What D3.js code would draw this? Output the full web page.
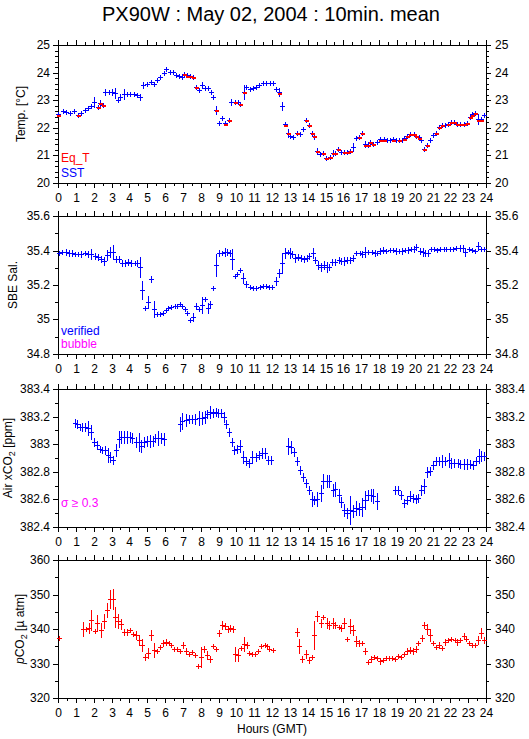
<!DOCTYPE html>
<html>
<head>
<meta charset="utf-8">
<script src="https://cdn.jsdelivr.net/npm/d3@7"></script>
<style>
body { margin: 0; background: #fff; }
svg text { font-family: "Liberation Sans", Arial, sans-serif; }
</style>
</head>
<body>
<div id="chart"></div>
<script>
// ---- data: hours (GMT), 10 min means, +/- one sigma ----
const sstHours = [0.00,0.28,0.47,0.69,0.88,1.12,1.31,1.50,1.68,1.87,2.04,2.22,2.38,2.52,2.66,2.84,3.02,3.18,3.34,3.50,3.68,3.86,4.05,4.24,4.42,4.60,4.79,5.00,5.19,5.38,5.57,5.74,5.92,6.08,6.26,6.44,6.62,6.78,6.93,7.07,7.22,7.38,7.56,7.75,7.90,8.06,8.24,8.40,8.56,8.70,8.88,9.03,9.21,9.39,9.57,9.72,9.90,10.07,10.22,10.41,10.56,10.75,10.93,11.12,11.29,11.48,11.67,11.86,
  12.05,12.22,12.39,12.56,12.72,12.88,13.02,13.20,13.39,13.56,13.72,13.89,14.06,14.22,14.37,14.54,14.69,14.87,15.05,15.24,15.41,15.55,15.70,15.88,16.06,16.22,16.38,16.53,16.70,16.87,17.04,17.19,17.36,17.52,17.69,17.88,18.07,18.26,18.45,18.62,18.78,18.94,19.10,19.27,19.42,19.58,19.76,19.94,20.08,20.22,20.38,20.54,20.69,20.87,21.03,21.19,21.38,21.54,21.71,21.87,22.05,22.23,22.38,22.56,22.74,22.93,23.08,23.23,23.41,23.56,23.74,23.87];
const sstValues = [22.49,22.60,22.58,22.54,22.60,22.46,22.52,22.64,22.70,22.78,22.92,22.76,22.90,22.82,23.30,23.28,23.28,23.25,23.02,23.12,23.22,23.24,23.24,23.22,23.19,23.12,23.55,23.60,23.65,23.58,23.72,23.83,24.00,24.12,24.01,24.02,23.93,23.87,23.83,23.95,23.90,23.88,23.85,23.48,23.36,23.56,23.45,23.43,23.28,23.12,22.64,22.18,22.34,22.16,22.28,22.95,22.95,22.93,22.86,23.30,23.47,23.42,23.45,23.47,23.55,23.62,23.64,23.64,
  23.62,23.40,23.28,22.80,22.12,21.82,21.70,21.65,21.82,21.77,21.95,22.28,22.10,21.82,21.70,21.16,21.04,21.08,20.92,20.94,21.10,21.08,21.23,21.13,21.13,21.12,21.16,21.30,21.63,21.67,21.82,21.40,21.37,21.49,21.43,21.50,21.58,21.58,21.57,21.57,21.58,21.55,21.57,21.56,21.62,21.70,21.77,21.77,21.70,21.65,21.55,21.25,21.37,21.55,21.73,21.82,22.03,22.10,22.10,22.13,22.22,22.22,22.13,22.13,22.13,22.18,22.40,22.49,22.54,22.31,22.31,22.45];
const sstErr = [.04,.06,.06,.07,.06,.05,.05,.06,.07,.07,.20,.06,.10,.06,.10,.10,.12,.20,.06,.10,.18,.06,.06,.06,.06,.12,.10,.06,.06,.07,.08,.06,.05,.04,.06,.04,.04,.04,.05,.04,.04,.04,.06,.05,.04,.10,.05,.08,.05,.07,.15,.07,.05,.06,.06,.08,.05,.04,.04,.25,.06,.04,.04,.04,.04,.04,.03,.03,
  .03,.08,.15,.15,.06,.12,.08,.04,.04,.04,.07,.05,.04,.08,.10,.12,.08,.07,.05,.05,.08,.04,.04,.05,.05,.05,.04,.15,.04,.04,.04,.12,.06,.04,.04,.05,.03,.03,.03,.03,.03,.04,.03,.03,.04,.04,.04,.04,.04,.03,.03,.06,.06,.07,.05,.08,.04,.04,.03,.03,.03,.03,.05,.04,.04,.04,.04,.04,.04,.18,.06,.04];

const eqHours = [0.00,1.12,2.22,2.38,2.52,7.07,7.22,7.38,7.56,7.75,8.88,9.39,9.57,9.90,10.22,10.41,
  12.39,12.72,12.88,13.39,13.89,14.06,14.22,14.37,14.54,14.87,15.05,15.24,15.41,15.55,15.70,16.06,16.22,16.38,16.87,17.04,17.19,17.36,17.52,17.69,18.07,18.26,18.78,19.10,19.42,19.58,19.76,19.94,20.08,20.22,20.54,20.69,21.19,21.38,21.54,21.87,22.05,22.23,22.38,22.56,22.74,22.93,23.08,23.23,23.41,23.56,23.74];
const eqValues = [22.48,22.45,22.75,22.89,22.81,23.94,23.89,23.87,23.84,23.47,22.63,22.15,22.27,22.94,22.85,23.29,
  23.27,22.11,21.81,21.81,22.27,22.09,21.81,21.69,21.15,21.07,20.91,20.93,21.09,21.07,21.22,21.12,21.11,21.15,21.66,21.81,21.39,21.36,21.48,21.42,21.57,21.57,21.57,21.56,21.61,21.69,21.76,21.76,21.69,21.64,21.24,21.36,21.81,22.02,22.09,22.12,22.21,22.21,22.12,22.12,22.12,22.17,22.39,22.48,22.53,22.30,22.30];

const salHours = [0.06,0.24,0.43,0.60,0.77,0.95,1.12,1.31,1.50,1.68,1.87,2.06,2.24,2.43,2.58,2.75,2.92,3.08,3.23,3.42,3.59,3.76,3.94,4.11,4.30,4.45,4.58,4.73,4.90,5.07,5.23,5.38,5.55,5.70,5.89,6.04,6.19,6.36,6.54,6.69,6.82,6.97,7.10,7.25,7.42,7.57,7.72,7.91,8.09,8.22,8.41,8.54,8.71,8.88,9.03,9.18,9.35,9.50,9.63,9.76,9.91,10.06,10.22,10.39,10.56,10.75,10.93,11.12,11.31,11.50,11.68,11.84,11.98,
  12.22,12.39,12.56,12.71,12.88,13.01,13.12,13.29,13.44,13.61,13.78,13.95,14.10,14.28,14.42,14.60,14.75,14.92,15.07,15.20,15.37,15.54,15.73,15.88,16.04,16.23,16.38,16.55,16.72,16.91,17.06,17.24,17.41,17.58,17.75,17.88,18.07,18.22,18.40,18.59,18.78,18.95,19.10,19.28,19.43,19.62,19.79,19.94,20.09,20.28,20.45,20.60,20.75,20.93,21.10,21.25,21.44,21.63,21.78,21.96,22.15,22.34,22.52,22.69,22.84,23.03,23.22,23.40,23.55,23.74,23.87];
const salValues = [35.384,35.390,35.393,35.388,35.384,35.380,35.380,35.380,35.384,35.380,35.378,35.368,35.365,35.350,35.342,35.374,35.390,35.393,35.350,35.350,35.326,35.330,35.336,35.330,35.330,35.330,35.303,35.173,35.064,35.100,35.236,35.058,35.033,35.033,35.040,35.055,35.068,35.074,35.078,35.081,35.090,35.078,35.062,35.035,34.997,35.016,35.081,35.058,35.083,35.121,35.068,35.090,35.181,35.317,35.384,35.384,35.393,35.393,35.384,35.350,35.250,35.261,35.286,35.240,35.206,35.189,35.183,35.183,35.186,35.192,35.192,35.190,35.188,
  35.225,35.270,35.326,35.384,35.390,35.384,35.378,35.359,35.363,35.359,35.353,35.359,35.368,35.387,35.345,35.317,35.307,35.317,35.307,35.307,35.332,35.336,35.345,35.342,35.340,35.345,35.345,35.355,35.384,35.384,35.380,35.390,35.390,35.390,35.388,35.384,35.400,35.405,35.396,35.405,35.405,35.400,35.398,35.400,35.405,35.405,35.407,35.410,35.420,35.400,35.393,35.384,35.384,35.407,35.410,35.405,35.407,35.407,35.410,35.410,35.410,35.414,35.414,35.414,35.393,35.407,35.405,35.400,35.428,35.407,35.410];
const salErr = [.012,.015,.015,.015,.02,.012,.012,.015,.012,.015,.03,.02,.015,.02,.02,.03,.03,.04,.02,.02,.02,.015,.012,.015,.012,.015,.06,.05,.01,.035,.015,.05,.01,.01,.01,.012,.01,.01,.01,.01,.01,.012,.01,.012,.01,.02,.012,.012,.05,.01,.025,.015,.015,.06,.02,.015,.02,.015,.02,.06,.015,.015,.015,.03,.015,.01,.01,.01,.01,.01,.01,.01,.01,
  .02,.025,.06,.03,.015,.03,.02,.02,.015,.015,.015,.015,.015,.025,.02,.02,.02,.02,.025,.015,.02,.015,.015,.015,.02,.015,.015,.02,.015,.01,.015,.03,.015,.015,.015,.015,.015,.015,.015,.01,.01,.015,.01,.015,.01,.015,.01,.015,.02,.015,.02,.02,.02,.015,.01,.01,.015,.01,.01,.01,.01,.01,.015,.015,.02,.015,.01,.01,.02,.015,.01];

const airHours = [0.93,1.08,1.21,1.36,1.53,1.68,1.83,2.02,2.19,2.34,2.49,2.64,2.79,2.93,3.08,3.23,3.40,3.55,3.70,3.87,4.02,4.17,4.36,4.52,4.67,4.82,4.99,5.14,5.33,5.46,5.61,5.76,5.93,6.82,6.97,7.16,7.33,7.51,7.70,7.89,8.07,8.22,8.37,8.54,8.69,8.84,8.99,9.14,9.29,9.44,9.59,9.74,9.89,10.04,10.19,10.37,10.56,10.71,10.90,11.08,11.27,11.46,11.61,11.78,11.92,
  12.92,13.07,13.24,13.39,13.57,13.72,13.89,14.06,14.23,14.37,14.54,14.73,14.88,15.07,15.22,15.41,15.56,15.73,15.88,16.04,16.19,16.38,16.57,16.72,16.89,17.04,17.22,17.37,17.54,17.69,17.88,18.87,19.04,19.23,19.38,19.57,19.75,19.90,20.05,20.20,20.37,20.54,20.69,20.88,21.03,21.19,21.38,21.55,21.72,21.91,22.06,22.22,22.41,22.56,22.75,22.94,23.09,23.27,23.44,23.59,23.74,23.91];
const airValues = [383.152,383.145,383.128,383.123,383.123,383.120,383.087,383.014,382.995,382.966,382.959,382.959,382.923,382.910,382.887,382.959,383.039,383.055,383.055,383.055,383.055,383.048,383.019,383.019,382.990,383.019,383.026,383.026,383.026,383.043,383.048,383.043,383.039,383.145,383.169,383.176,383.183,383.183,383.180,383.188,383.192,383.200,383.217,383.236,383.225,383.230,383.225,383.225,383.200,383.145,383.087,383.014,382.959,382.964,382.990,382.910,382.875,382.863,382.904,382.904,382.923,382.935,382.935,382.887,382.882,
  382.988,382.983,382.942,382.880,382.810,382.761,382.718,382.665,382.605,382.593,382.602,382.646,382.735,382.735,382.735,382.670,382.675,382.634,382.578,382.525,382.501,382.525,382.518,382.537,382.532,382.542,382.598,382.629,382.634,382.627,382.590,382.670,382.670,382.629,382.573,382.598,382.622,382.610,382.605,382.610,382.665,382.699,382.802,382.807,382.846,382.875,382.880,382.880,382.880,382.887,382.867,382.862,382.862,382.856,382.856,382.856,382.856,382.851,382.875,382.918,382.918,382.911];
const airErr = [.03,.03,.02,.03,.03,.05,.05,.03,.03,.02,.02,.03,.05,.03,.03,.04,.06,.04,.04,.04,.03,.03,.03,.06,.04,.03,.03,.04,.03,.03,.05,.04,.04,.05,.06,.04,.03,.03,.04,.05,.04,.04,.03,.04,.03,.03,.03,.03,.03,.03,.03,.03,.03,.03,.04,.04,.03,.03,.05,.03,.03,.04,.04,.03,.03,
  .06,.04,.03,.03,.03,.03,.03,.03,.05,.03,.05,.06,.05,.04,.04,.04,.05,.04,.04,.04,.04,.10,.04,.05,.04,.07,.06,.04,.04,.05,.06,.03,.03,.03,.03,.03,.04,.03,.03,.03,.04,.05,.03,.03,.03,.03,.03,.04,.03,.05,.03,.03,.03,.03,.04,.04,.03,.03,.03,.05,.03,.03];

const pco2Hours = [0.06,1.40,1.55,1.72,1.87,2.06,2.21,2.39,2.56,2.73,2.90,3.07,3.21,3.36,3.53,3.72,3.89,4.06,4.21,4.39,4.56,4.73,4.90,5.07,5.23,5.38,5.55,5.72,5.89,6.06,6.21,6.36,6.52,6.69,6.86,7.03,7.20,7.36,7.53,7.70,7.87,8.04,8.21,8.37,8.54,8.71,8.88,9.05,9.21,9.38,9.51,9.66,9.83,9.93,10.07,10.24,10.41,10.58,10.73,10.90,11.07,11.23,11.40,11.59,11.72,11.85,12.04,
  13.39,13.54,13.70,13.89,14.06,14.23,14.38,14.55,14.73,14.88,15.07,15.22,15.41,15.56,15.73,15.88,16.04,16.23,16.38,16.53,16.70,16.87,17.04,17.22,17.36,17.54,17.71,17.88,18.03,18.20,18.39,18.55,18.74,18.91,19.08,19.25,19.42,19.58,19.75,19.92,20.07,20.20,20.39,20.54,20.69,20.88,21.03,21.19,21.38,21.55,21.72,21.87,22.06,22.25,22.37,22.56,22.75,22.90,23.07,23.22,23.40,23.55,23.72,23.91];
const pco2Values = [337.4,340.0,339.9,340.3,342.5,339.4,341.6,339.6,342.3,345.5,348.8,348.6,343.5,342.3,341.5,339.1,339.1,339.6,338.6,338.4,336.8,335.5,331.9,333.1,338.2,334.0,333.6,334.8,336.0,336.3,335.8,335.5,334.3,334.3,333.7,335.3,333.6,332.8,333.3,332.4,329.2,331.9,334.2,332.6,331.3,335.0,334.2,338.9,341.3,341.0,339.9,340.3,339.9,332.8,332.6,334.5,335.7,335.5,333.1,332.8,332.8,333.6,335.2,335.3,335.2,334.2,334.0,
  339.2,335.0,331.4,332.8,331.1,331.8,338.4,343.7,341.8,343.4,341.8,341.3,341.6,341.1,340.5,340.3,341.6,337.2,340.8,339.6,336.5,336.0,335.8,333.7,330.5,331.3,331.9,331.6,330.8,330.9,331.6,331.6,331.6,331.4,332.3,331.8,332.8,333.6,333.8,333.6,334.3,336.0,337.4,341.1,339.9,338.4,335.8,334.7,335.5,334.5,336.3,336.7,337.2,336.9,336.2,336.7,338.1,337.1,335.8,335.3,335.3,336.9,338.9,336.9];
const pco2Err = [.5,2,.5,1.5,3,.4,2.5,2,2,2,2.5,3,3,2,1.5,1,.8,.8,.5,1,1.5,1.5,.8,1.5,1.5,2,.7,.5,.8,.8,.8,.5,.5,.5,.5,1,.8,.5,.5,.5,.8,3,.8,1,1,.5,.5,.8,1,.8,1,1,1,2,1.5,.5,2,.8,.5,.4,.4,.4,.5,.5,.5,.4,.4,
  1,2,.8,1,.8,.5,4,1.5,1,.8,1.5,1,1.5,1,.8,.8,1.5,.5,2,1.5,1.5,.8,.5,.8,.5,.8,.5,.5,.8,.5,.5,.5,.5,.4,.5,.4,.5,.8,1,.8,.8,.5,.8,1,1.5,1.5,.5,.5,.8,.5,.8,.5,.5,.5,.8,.5,.8,.5,.8,.5,.5,1,1.5,.8];

const hourTicks = d3.range(0, 25);
const halfHourTicks = d3.range(0.5, 24, 1);

// ---- layout ----
const width = 529, height = 739;
const left = 58, right = 486, panelH = 138;
const panelTops = [45, 216, 389, 560];

const svg = d3.select("#chart").append("svg")
  .attr("width", width)
  .attr("height", height);

svg.append("text")
  .attr("x", 271).attr("y", 21)
  .attr("text-anchor", "middle")
  .attr("font-size", 20)
  .text("PX90W : May 02, 2004 : 10min. mean");

const x = d3.scaleLinear().domain([0, 24]).rangeRound([left, right]);

const panels = [
  { domain: [20, 25], major: 1, minor: 0.2, labelX: 25 },
  { domain: [34.8, 35.6], major: 0.2, minor: 0.1, labelX: 17 },
  { domain: [382.4, 383.4], major: 0.2, minor: 0.1, labelX: 12 },
  { domain: [320, 360], major: 10, minor: 5, labelX: 24 }
];

function steps(d0, d1, step) {
  const n = Math.round((d1 - d0) / step);
  return d3.range(n + 1).map(i => +(d0 + i * step).toFixed(3));
}

const fmt = d => String(+d.toFixed(2));

function styleAxis(g) {
  g.select(".domain").remove();
  g.attr("font-size", 12).attr("font-family", "Liberation Sans, Arial, sans-serif");
}

// draw one "+" per 10 min mean: short horizontal arm, vertical arm = sigma
function crosses(g, hrs, vals, errs, y, color) {
  g.append("g")
    .selectAll("path")
    .data(d3.range(hrs.length))
    .join("path")
      .attr("fill", "none")
      .attr("stroke", color)
      .attr("stroke-width", 1)
      .attr("shape-rendering", "crispEdges")
      .attr("d", i => {
        const cx = x(hrs[i]), cy = Math.round(y(vals[i]));
        const h = Math.max(2, Math.round(Math.abs(y(vals[i] + errs[i]) - y(vals[i]))));
        return `M${cx - 2},${cy + 0.5}H${cx + 3}M${cx + 0.5},${cy - h}V${cy + h + 1}`;
      });
}

panels.forEach((p, k) => {
  const top = panelTops[k], bottom = top + panelH;
  const y = d3.scaleLinear().domain(p.domain).rangeRound([bottom, top]);
  p.y = y;
  const g = svg.append("g");

  // x axes, bottom (labelled) and top
  g.append("g").attr("transform", `translate(0,${bottom})`)
    .call(d3.axisBottom(x).tickValues(hourTicks).tickSize(5).tickPadding(5).tickFormat(d3.format("d")))
    .call(styleAxis);
  g.append("g").attr("transform", `translate(0,${bottom})`)
    .call(d3.axisBottom(x).tickValues(halfHourTicks).tickSize(3).tickFormat(""))
    .call(styleAxis);
  g.append("g").attr("transform", `translate(0,${top})`)
    .call(d3.axisTop(x).tickValues(hourTicks).tickSize(5).tickFormat(""))
    .call(styleAxis);
  g.append("g").attr("transform", `translate(0,${top})`)
    .call(d3.axisTop(x).tickValues(halfHourTicks).tickSize(3).tickFormat(""))
    .call(styleAxis);

  // y axes, both sides
  const majors = steps(p.domain[0], p.domain[1], p.major);
  const minors = steps(p.domain[0], p.domain[1], p.minor).filter(v => !majors.some(m => Math.abs(m - v) < 1e-6));
  g.append("g").attr("transform", `translate(${left},0)`)
    .call(d3.axisLeft(y).tickValues(majors).tickSize(5).tickPadding(3).tickFormat(fmt))
    .call(styleAxis);
  g.append("g").attr("transform", `translate(${left},0)`)
    .call(d3.axisLeft(y).tickValues(minors).tickSize(3).tickFormat(""))
    .call(styleAxis);
  g.append("g").attr("transform", `translate(${right},0)`)
    .call(d3.axisRight(y).tickValues(majors).tickSize(5).tickPadding(4).tickFormat(fmt))
    .call(styleAxis);
  g.append("g").attr("transform", `translate(${right},0)`)
    .call(d3.axisRight(y).tickValues(minors).tickSize(3).tickFormat(""))
    .call(styleAxis);

  // frame
  g.append("rect")
    .attr("x", left + 0.5).attr("y", top + 0.5)
    .attr("width", right - left).attr("height", panelH)
    .attr("fill", "none").attr("stroke", "#000")
    .attr("shape-rendering", "crispEdges");

  p.g = g;
  p.mid = (top + bottom) / 2;
});

// ---- marks ----
crosses(panels[0].g, sstHours, sstValues, sstErr, panels[0].y, "#0000ff");
panels[0].g.append("g")
  .selectAll("rect")
  .data(d3.range(eqHours.length))
  .join("rect")
    .attr("x", i => x(eqHours[i]) - 1)
    .attr("y", i => Math.round(panels[0].y(eqValues[i])))
    .attr("width", 4).attr("height", 2)
    .attr("fill", "#ff0000");
crosses(panels[1].g, salHours, salValues, salErr, panels[1].y, "#0000ff");
crosses(panels[2].g, airHours, airValues, airErr, panels[2].y, "#0000ff");
crosses(panels[3].g, pco2Hours, pco2Values, pco2Err, panels[3].y, "#ff0000");

// ---- y titles ----
function yTitle(p, build) {
  const t = svg.append("text")
    .attr("transform", `translate(${p.labelX},${p.mid}) rotate(-90)`)
    .attr("text-anchor", "middle")
    .attr("font-size", 12);
  build(t);
}
yTitle(panels[0], t => t.text("Temp. [°C]"));
yTitle(panels[1], t => t.text("SBE Sal."));
yTitle(panels[2], t => {
  t.append("tspan").text("Air xCO");
  t.append("tspan").attr("dy", 3).attr("font-size", 9).text("2");
  t.append("tspan").attr("dy", -3).text(" [ppm]");
});
yTitle(panels[3], t => {
  t.append("tspan").attr("font-style", "italic").text("p");
  t.append("tspan").text("CO");
  t.append("tspan").attr("dy", 3).attr("font-size", 9).text("2");
  t.append("tspan").attr("dy", -3).text(" [µ atm]");
});

// ---- in-panel legends ----
const legends = [
  { panel: 0, dy: -21, text: "Eq_T", color: "#ff0000" },
  { panel: 0, dy: -6, text: "SST", color: "#0000ff" },
  { panel: 1, dy: -19, text: "verified", color: "#0000ff" },
  { panel: 1, dy: -6, text: "bubble", color: "#ff00ff" },
  { panel: 2, dy: -20, text: "σ ≥ 0.3", color: "#ff00ff" }
];
legends.forEach(l => {
  svg.append("text")
    .attr("x", left + 3)
    .attr("y", panelTops[l.panel] + panelH + l.dy)
    .attr("font-size", 12)
    .attr("fill", l.color)
    .text(l.text);
});

svg.append("text")
  .attr("x", (left + right) / 2).attr("y", 733)
  .attr("text-anchor", "middle")
  .attr("font-size", 12)
  .text("Hours (GMT)");
</script>
</body>
</html>
